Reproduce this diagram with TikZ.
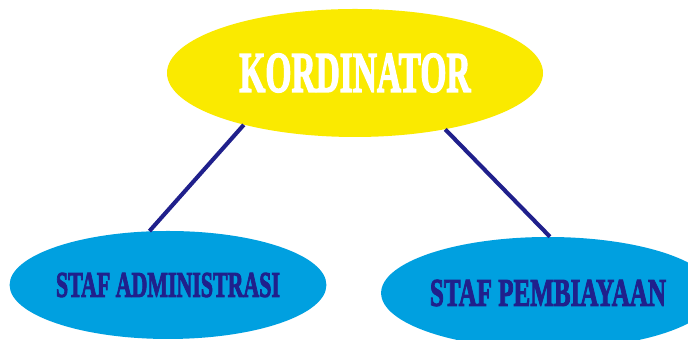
\documentclass[tikz,border=0pt]{standalone}
\usepackage{fontspec}
\setmainfont{Liberation Serif}[BoldFeatures={FakeBold=3}]
\usepackage{graphicx}
\usetikzlibrary{shapes.geometric}
\definecolor{kuning}{RGB}{250,234,0}
\definecolor{biru}{RGB}{0,160,224}
\definecolor{navy}{RGB}{32,32,140}
\tikzset{
    oval/.style={ellipse, draw=none, inner sep=0pt},
    garis/.style={navy, line width=2.9pt}
}

\begin{document}
\begin{tikzpicture}

    \useasboundingbox[fill=white] (0,0) rectangle (17.2,8.5);

    \node[oval, fill=kuning, minimum width=9.4cm, minimum height=3.2cm] (kordinator) at (8.875,6.675)
        {\resizebox{5.78cm}{0.95cm}{\bfseries\color{white}KORDINATOR}};
				\node[oval, fill=biru, minimum width=7.875cm, minimum height=2.7cm] (administrasi) at (4.2,1.375)
        {\resizebox{5.6cm}{0.6cm}{\bfseries\color{navy}STAF ADMINISTRASI}};
				\node[oval, fill=biru, minimum width=8.25cm, minimum height=2.8cm] (pembiayaan) at (13.7,1.175)
        {\resizebox{5.9cm}{0.65cm}{\bfseries\color{navy}STAF PEMBIAYAAN}};

				\draw[garis] (kordinator.205) -- (administrasi.109);
				\draw[garis] (kordinator.328) -- (pembiayaan.88);

\end{tikzpicture}
\end{document}
